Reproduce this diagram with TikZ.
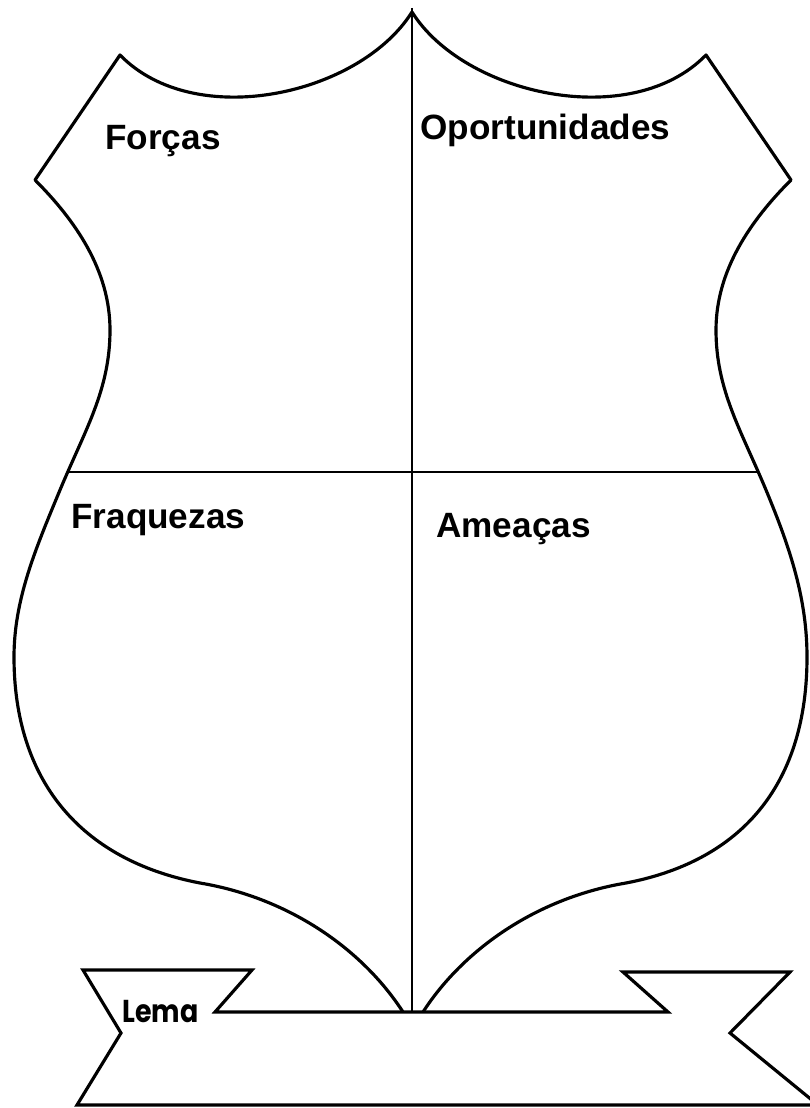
\documentclass[tikz,border=0pt]{standalone}
\usepackage{fontspec}
\setmainfont{Liberation Sans}
\newfontfamily\lemafont{Poppins}

\begin{document}
\begin{tikzpicture}[
    x=0.02cm, y=-0.02cm,
    escudo/.style={draw=black, line width=1.8pt, line join=round},
    divisa/.style={draw=black, line width=1.1pt},
    faixa/.style={draw=black, line width=1.8pt, line join=miter},
    quad/.style={font=\fontsize{20}{24}\selectfont\bfseries, anchor=base west,
                 inner sep=0pt},
    lema/.style={font=\lemafont\fontsize{18}{20}\selectfont\bfseries,
                 anchor=base west, inner sep=0pt},
]
\useasboundingbox (0,0) rectangle (809,1108);

% ===========================================================================
% Escudo
% ===========================================================================
\coordinate (topo) at (412,12);
\coordinate (base) at (412,1012);

% ----- lado esquerdo -----
\draw[escudo] (topo) .. controls (360,95) and (195,132) .. (120,55)
      -- (35,180)
      .. controls (75,220) and (110,270) .. (110,330)
      .. controls (110,390) and (85,430) .. (60,490)
      .. controls (35,550) and (14,600) .. (14,657)
      .. controls (14,780) and (80,860) .. (200,883)
      .. controls (290,898) and (363,950) .. (403,1012);

% ----- lado direito -----
\draw[escudo] (topo) .. controls (464,95) and (631,132) .. (706,55)
      -- (791,180)
      .. controls (751,220) and (716,270) .. (716,330)
      .. controls (716,390) and (741,430) .. (766,490)
      .. controls (791,550) and (807,600) .. (807,657)
      .. controls (807,780) and (746,860) .. (626,883)
      .. controls (536,898) and (463,950) .. (423,1012);

% ----- divisões -----
\draw[divisa] (412,8) -- (base);
\draw[divisa] (67,472) -- (758,472);

% ===========================================================================
% Faixa do lema
% ===========================================================================
\draw[faixa] (215,1012) -- (252,970) -- (83,970) -- (121,1033) -- (77,1105)
      -- (818,1105) -- (730,1033) -- (790,972) -- (623,972) -- (668,1012)
      -- cycle;

% ===========================================================================
% Textos
% ===========================================================================
\node[quad] (forcas) at (105,150) {Forças};
\node[quad] (oport)  at (420,140) {Oportunidades};
\node[quad] (fraq)   at (71,528)  {Fraquezas};
\node[quad] (ameac)  at (436,537) {Ameaças};
\node[lema] (lema)   at (122,1022) {\scalebox{0.85}[1]{Lema}};

\end{tikzpicture}
\end{document}
